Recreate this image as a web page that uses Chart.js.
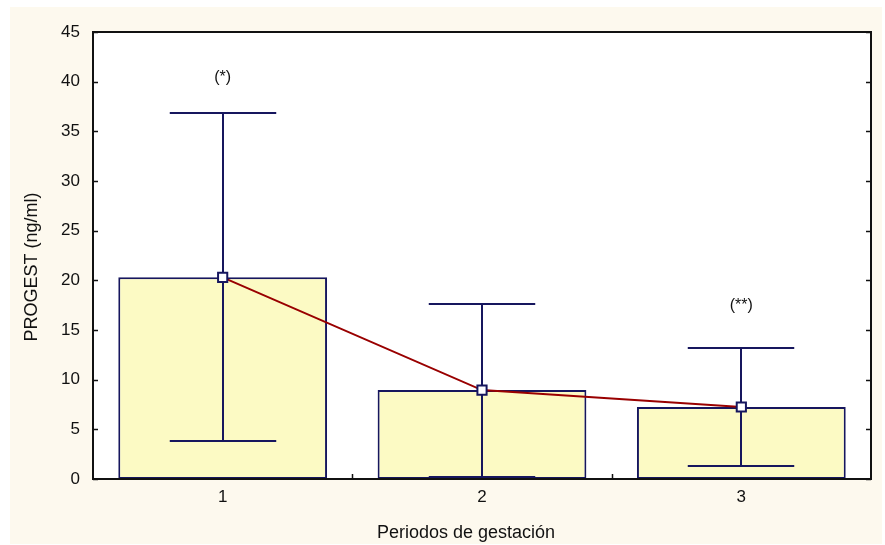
<!DOCTYPE html>
<html>
<head>
<meta charset="utf-8">
<script src="https://cdn.jsdelivr.net/npm/chart.js@4.4.1/dist/chart.umd.min.js"></script>
<style>
  html, body { margin: 0; padding: 0; background: #ffffff; }
  #wrap { width: 885px; height: 545px; }
</style>
</head>
<body>
<div id="wrap"><canvas id="chart" width="885" height="545"></canvas></div>
<script>
// Progesterone by gestation period: mean with min/max range
const periods = ['1', '2', '3'];
const means = [20.3, 8.95, 7.25];
const lowerBounds = [3.8, 0.2, 1.3];
const upperBounds = [36.8, 17.6, 13.15];
const significance = ['(*)', '', '(**)'];
const yTickValues = [0, 5, 10, 15, 20, 25, 30, 35, 40, 45];
const xTitle = 'Periodos de gestación';
const yTitle = 'PROGEST (ng/ml)';

const NAVY = '#16165e';
const DARK_RED = '#990000';
const INK = '#111111';
const FONT = '"Liberation Sans", Arial, Helvetica, sans-serif';

// Cream page panel and white plotting area
const backdrop = {
  id: 'backdrop',
  beforeDraw(chart) {
    const { ctx, chartArea: a } = chart;
    ctx.save();
    ctx.fillStyle = '#ffffff';
    ctx.fillRect(0, 0, chart.width, chart.height);
    ctx.fillStyle = '#fdf9ee';
    ctx.fillRect(10, 7, 872, 537);
    ctx.fillStyle = '#ffffff';
    ctx.fillRect(a.left, a.top, a.right - a.left, a.bottom - a.top);
    ctx.restore();
  }
};

// Whiskers from lower to upper bound, drawn over the bars and under the mean line
const whiskers = {
  id: 'whiskers',
  afterDatasetDraw(chart, args) {
    if (args.index !== 0) return;
    const { ctx, scales: { y } } = chart;
    const bars = chart.getDatasetMeta(0).data;
    ctx.save();
    ctx.strokeStyle = NAVY;
    ctx.lineWidth = 2;
    bars.forEach((bar, i) => {
      const x = Math.round(bar.x);
      const half = bar.width * 0.255;
      const yLo = Math.round(y.getPixelForValue(lowerBounds[i]));
      const yHi = Math.round(y.getPixelForValue(upperBounds[i]));
      ctx.beginPath();
      ctx.moveTo(x, yLo);
      ctx.lineTo(x, yHi);
      ctx.moveTo(x - half, yLo);
      ctx.lineTo(x + half, yLo);
      ctx.moveTo(x - half, yHi);
      ctx.lineTo(x + half, yHi);
      ctx.stroke();
    });
    ctx.restore();
  }
};

// Frame around the plot with inward tick marks, axis titles and significance marks
const frame = {
  id: 'frame',
  afterDraw(chart, args, opts) {
    const { ctx, chartArea: a, scales: { x, y } } = chart;
    ctx.save();
    ctx.strokeStyle = INK;
    ctx.lineWidth = 2;
    ctx.strokeRect(a.left, a.top, a.right - a.left, a.bottom - a.top);
    ctx.lineWidth = 1.5;
    ctx.beginPath();
    yTickValues.forEach(v => {
      const py = Math.round(y.getPixelForValue(v)) + 0.5;
      ctx.moveTo(a.left, py); ctx.lineTo(a.left + 5, py);
      ctx.moveTo(a.right - 5, py); ctx.lineTo(a.right, py);
    });
    for (let i = 1; i < periods.length; i++) {
      const px = Math.round((x.getPixelForValue(i - 1) + x.getPixelForValue(i)) / 2) + 0.5;
      ctx.moveTo(px, a.bottom); ctx.lineTo(px, a.bottom - 5);
    }
    ctx.stroke();

    ctx.fillStyle = INK;
    ctx.textAlign = 'center';
    ctx.textBaseline = 'middle';

    ctx.font = '16px ' + FONT;
    significance.forEach((txt, i) => {
      if (!txt) return;
      const px = x.getPixelForValue(i);
      const py = y.getPixelForValue(upperBounds[i]) - opts.lift[i];
      ctx.fillText(txt, px, py);
    });

    ctx.font = '18px ' + FONT;
    ctx.fillText(xTitle, opts.xTitleAt[0], opts.xTitleAt[1]);
    ctx.translate(opts.yTitleAt[0], opts.yTitleAt[1]);
    ctx.rotate(-Math.PI / 2);
    ctx.fillText(yTitle, 0, 0);
    ctx.restore();
  }
};

new Chart(document.getElementById('chart'), {
  data: {
    labels: periods,
    datasets: [
      {
        type: 'bar',
        data: means,
        backgroundColor: '#fcfac4',
        borderColor: NAVY,
        borderWidth: 2,
        borderSkipped: false,
        categoryPercentage: 1,
        barPercentage: 0.805,
        order: 2
      },
      {
        type: 'line',
        data: means,
        borderColor: DARK_RED,
        borderWidth: 2,
        pointStyle: 'rect',
        pointRadius: 6.5,
        pointBorderWidth: 2,
        pointBackgroundColor: '#ffffff',
        pointBorderColor: NAVY,
        tension: 0,
        order: 1
      }
    ]
  },
  options: {
    responsive: false,
    animation: false,
    devicePixelRatio: 1,
    layout: { padding: { top: 32, right: 14, left: 10, bottom: 0 } },
    plugins: {
      legend: { display: false },
      tooltip: { enabled: false },
      frame: { lift: [36, 0, 43], xTitleAt: [466, 533], yTitleAt: [32, 267] }
    },
    scales: {
      x: {
        type: 'category',
        grid: { display: false, drawTicks: false },
        border: { display: false },
        ticks: { color: INK, font: { family: FONT, size: 17 }, padding: 8 },
        afterFit(scale) { scale.height = 66; }
      },
      y: {
        min: 0,
        max: 45,
        afterBuildTicks(scale) { scale.ticks = yTickValues.map(v => ({ value: v })); },
        grid: { display: false, drawTicks: false },
        border: { display: false },
        ticks: { color: INK, font: { family: FONT, size: 17 }, padding: 13 },
        afterFit(scale) { scale.width = 83; }
      }
    }
  },
  plugins: [backdrop, whiskers, frame]
});
</script>
</body>
</html>
